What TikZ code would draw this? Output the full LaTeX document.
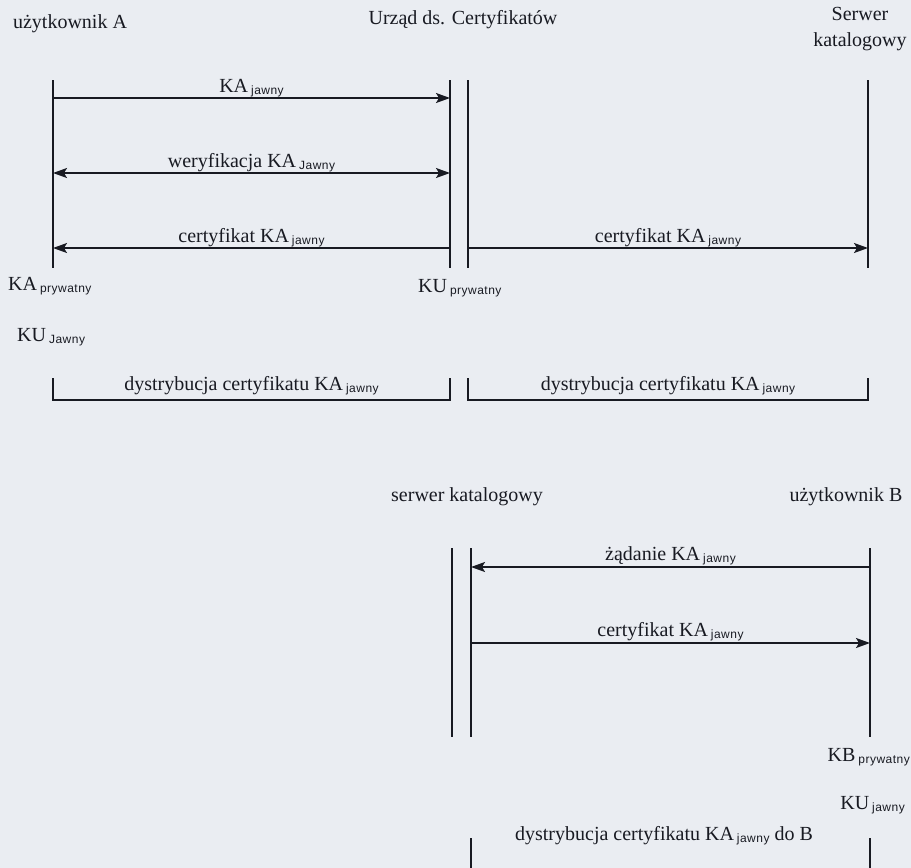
\documentclass[tikz,border=0pt]{standalone}
\usepackage{fontspec}
\setmainfont{Liberation Serif}
\newfontfamily\idxfont[LetterSpace=4]{Liberation Sans}
\usetikzlibrary{arrows.meta, positioning}

\newcommand{\idx}[1]{\hspace{3pt}{\idxfont\fontsize{12}{12}\selectfont\raisebox{-2pt}{#1}}}

\definecolor{paper}{RGB}{234,237,242}
\definecolor{ink}{RGB}{24,26,34}

\begin{document}
\begin{tikzpicture}[
  x=1pt, y=-1pt,
  >={Stealth[length=14pt, width=10pt, inset=3pt]},
  every node/.style={font=\fontsize{20}{26}\selectfont, text=ink, inner sep=0pt},
  lifeline/.style={draw=ink, line width=1.5pt},
  msg/.style={draw=ink, line width=1.5pt, ->},
  msgboth/.style={draw=ink, line width=1.5pt, <->},
  lbl/.style={anchor=base, yshift=6pt},
  bracketline/.style={draw=ink, line width=1.3pt},
]
  \fill[paper] (0,0) rectangle (911,868);
  \useasboundingbox (0,0) rectangle (911,868);

  % rejestracja klucza A
  \node (userA) at (70,24) {użytkownik A};
  \node (urzad) at (463,20) {Urząd ds. Certyfikatów};
  \node[align=center] (serwer) at (860,29) {Serwer\\katalogowy};

  \coordinate (A) at (53,80);
  \coordinate (C) at (450,80);
  \coordinate (C2) at (468,80);
  \coordinate (S) at (868,80);
  \coordinate (end1) at (0,268);
  \foreach \p in {A,C,C2,S}
    \draw[lifeline] (\p) -- (\p |- end1);

  \coordinate (m1) at (0,98);
  \coordinate (m2) at (0,173);
  \coordinate (m3) at (0,248);
  \draw[msg] (A |- m1) -- node[lbl] {KA\idx{jawny}} (C |- m1);
  \draw[msgboth] (A |- m2) -- node[lbl] {weryfikacja KA\idx{Jawny}} (C |- m2);
  \draw[msg] (C |- m3) -- node[lbl] {certyfikat KA\idx{jawny}} (A |- m3);
  \draw[msg] (C2 |- m3) -- node[lbl] {certyfikat KA\idx{jawny}} (S |- m3);

  \node[anchor=west] (kaPriv) at (8,286) {KA\idx{prywatny}};
  \node[anchor=west] (kuPriv) at (418,288) {KU\idx{prywatny}};
  \node[anchor=west] (kuPub) at (17,337) {KU\idx{Jawny}};

  \coordinate (b1) at (0,378);
  \coordinate (b2) at (0,400);
  \draw[bracketline] (A |- b1) -- (A |- b2)
    -- node[lbl, yshift=4pt] {dystrybucja certyfikatu KA\idx{jawny}} (C |- b2) -- (C |- b1);
  \draw[bracketline] (C2 |- b1) -- (C2 |- b2)
    -- node[lbl, yshift=4pt] {dystrybucja certyfikatu KA\idx{jawny}} (S |- b2) -- (S |- b1);

  % pobranie certyfikatu przez B
  \node (serwerK) at (467,497) {serwer katalogowy};
  \node (userB) at (846,497) {użytkownik B};

  \coordinate (K) at (452,548);
  \coordinate (K2) at (471,548);
  \coordinate (B) at (870,548);
  \coordinate (end2) at (0,737);
  \foreach \p in {K,K2,B}
    \draw[lifeline] (\p) -- (\p |- end2);

  \coordinate (m4) at (0,567);
  \coordinate (m5) at (0,643);
  \draw[msg] (B |- m4) -- node[lbl, yshift=1pt] {żądanie KA\idx{jawny}} (K2 |- m4);
  \draw[msg] (K2 |- m5) -- node[lbl, yshift=1pt] {certyfikat KA\idx{jawny}} (B |- m5);

  \node[anchor=east] (kbPriv) at (910,757) {KB\idx{prywatny}};
  \node[anchor=east] (kuPubB) at (905,805) {KU\idx{jawny}};

  \coordinate (b3) at (0,838);
  \coordinate (b4) at (0,868);
  \draw[bracketline] (K2 |- b3) -- (K2 |- b4);
  \draw[bracketline] (B |- b3) -- (B |- b4);
  \node[anchor=base] (dystB) at (664,840) {dystrybucja certyfikatu KA\idx{jawny} do B};
\end{tikzpicture}
\end{document}
